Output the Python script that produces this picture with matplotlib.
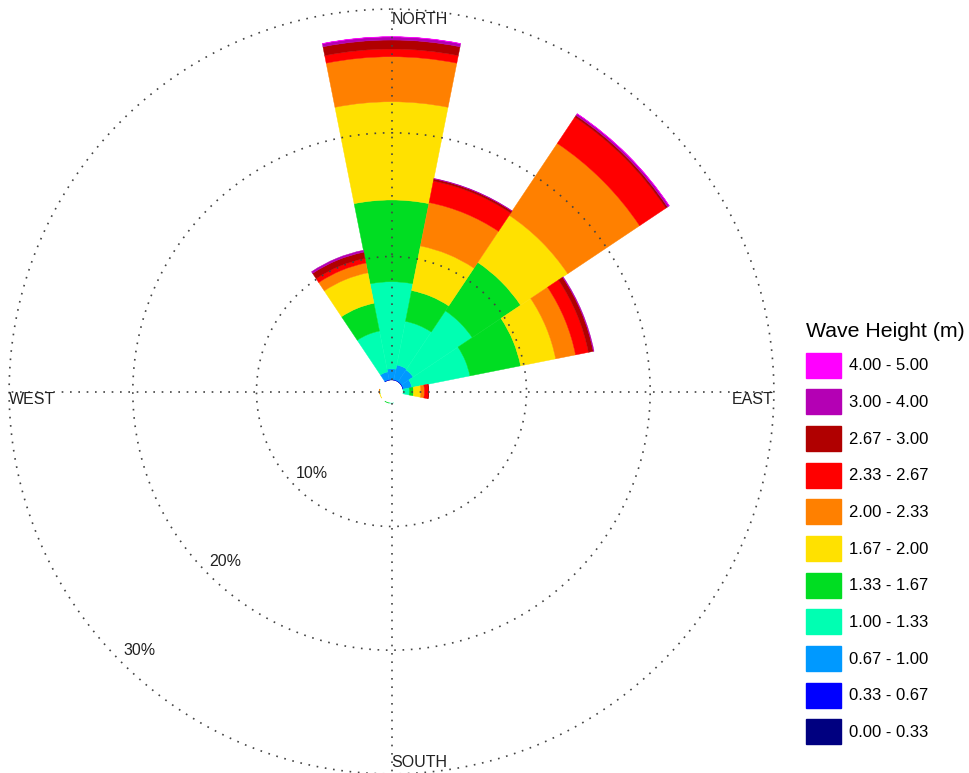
import numpy as np
import matplotlib
matplotlib.use('Agg')
import matplotlib.pyplot as plt
from matplotlib.patches import Patch

plt.rcParams['font.family'] = ['Liberation Sans', 'DejaVu Sans']

# 16 compass directions, clockwise from north
directions = ['N', 'NNE', 'NE', 'ENE', 'E', 'ESE', 'SE', 'SSE',
              'S', 'SSW', 'SW', 'WSW', 'W', 'WNW', 'NW', 'NNW']

bin_labels = ['0.00 - 0.33', '0.33 - 0.67', '0.67 - 1.00', '1.00 - 1.33',
              '1.33 - 1.67', '1.67 - 2.00', '2.00 - 2.33', '2.33 - 2.67',
              '2.67 - 3.00', '3.00 - 4.00', '4.00 - 5.00']
bin_colors = ['#000080', '#0000FF', '#0099FF', '#00FFB2', '#00DD22', '#FFE100',
              '#FF8000', '#FF0000', '#B00000', '#B400B4', '#FF00FF']

# frequency (%) of each wave height class per direction
h_000_033 = [0.02, 0.02, 0.02, 0.02, 0, 0, 0, 0, 0, 0, 0, 0, 0, 0, 0, 0.02]
h_033_067 = [0.05, 0.05, 0.05, 0.05, 0, 0, 0, 0, 0, 0, 0, 0, 0, 0, 0, 0.05]
h_067_100 = [0.85, 1.20, 1.12, 0.70, 0, 0, 0, 0, 0, 0, 0, 0, 0, 0, 0, 0.63]
h_100_133 = [7.04, 3.60, 5.74, 4.78, 0.54, 0, 0, 0, 0.03, 0, 0, 0, 0, 0, 0, 3.37]
h_133_167 = [6.61, 2.54, 4.71, 4.18, 0.33, 0, 0, 0, 0, 0.05, 0, 0, 0.05, 0, 0, 2.29]
h_167_200 = [7.94, 3.67, 4.58, 2.89, 0.59, 0, 0, 0, 0, 0, 0, 0.05, 0, 0, 0, 2.51]
h_200_233 = [3.64, 3.58, 6.99, 1.64, 0.29, 0, 0, 0, 0, 0, 0, 0, 0.04, 0, 0, 0.81]
h_233_267 = [0.62, 1.77, 2.55, 1.06, 0.33, 0, 0, 0, 0, 0, 0, 0, 0, 0, 0, 0.37]
h_267_300 = [0.73, 0.18, 0.17, 0.40, 0.03, 0, 0, 0, 0, 0, 0, 0, 0, 0, 0, 0.52]
h_300_400 = [0.25, 0.04, 0.16, 0.06, 0, 0, 0, 0, 0, 0, 0, 0, 0, 0, 0, 0.16]
h_400_500 = [0.02, 0, 0.01, 0, 0, 0, 0, 0, 0, 0, 0, 0, 0, 0, 0, 0]

bins = [h_000_033, h_033_067, h_067_100, h_100_133, h_133_167, h_167_200,
        h_200_233, h_233_267, h_267_300, h_300_400, h_400_500]

ring_values = [10, 20, 30]

theta = np.deg2rad(np.arange(len(directions)) * 22.5)
width = 2 * np.pi / len(directions)

fig = plt.figure(figsize=(9.69, 7.73), dpi=100)
W, H = 969, 773
cx, cy = 391.5, 391.5
rmax = 30.2
origin = 0.913
R = (rmax + origin) * 12.37
ax = fig.add_axes([(cx - R) / W, (H - cy - R) / H, 2 * R / W, 2 * R / H],
                  projection='polar')
ax.set_theta_zero_location('N')
ax.set_theta_direction(-1)
ax.set_rorigin(-origin)
ax.set_ylim(0, rmax)
ax.set_axis_off()

# stacked sectors
bottom = np.zeros(len(directions))
for vals, col in zip(bins, bin_colors):
    vals = np.array(vals, dtype=float)
    m = vals > 0
    ax.bar(theta[m], vals[m], width=width, bottom=bottom[m], color=col,
           edgecolor=col, linewidth=0.3, zorder=2)
    bottom += vals

# dotted rings and compass axes drawn over the sectors
grid_kw = dict(color='#444444', linewidth=1.2, linestyle=(0, (1, 4)), zorder=3)
t = np.linspace(0, 2 * np.pi, 721)
for rv in ring_values:
    ax.plot(t, np.full_like(t, rv), **grid_kw)
for a in [0, 90, 180, 270]:
    ax.plot([np.deg2rad(a)] * 2, [0, 30], **grid_kw)

txt_kw = dict(fontsize=11.5, color='#222222', zorder=4)
ax.text(0, 29.8, 'NORTH', ha='left', va='top', **txt_kw)
ax.text(np.pi / 2, 30, 'EAST', ha='right', va='top', **txt_kw)
ax.text(3 * np.pi / 2, 30, 'WEST', ha='left', va='top', **txt_kw)
ax.text(np.pi, 29.7, 'SOUTH', ha='left', va='bottom', **txt_kw)
for rv in ring_values:
    ax.text(np.deg2rad(224.3), rv - 1.7, f'{rv}%', ha='center', va='center', **txt_kw)

handles = [Patch(facecolor=c, edgecolor=c) for c in bin_colors][::-1]
fig.legend(handles, bin_labels[::-1], loc='upper left',
           bbox_to_anchor=(806 / W, 1 - 322 / H), frameon=False,
           title='Wave Height (m)', title_fontsize=15.3, fontsize=12,
           handlelength=2.1, handleheight=1.93, labelspacing=0.70,
           handletextpad=0.5, borderpad=0, borderaxespad=0, alignment='left')

fig.savefig('out.png', dpi=100)
